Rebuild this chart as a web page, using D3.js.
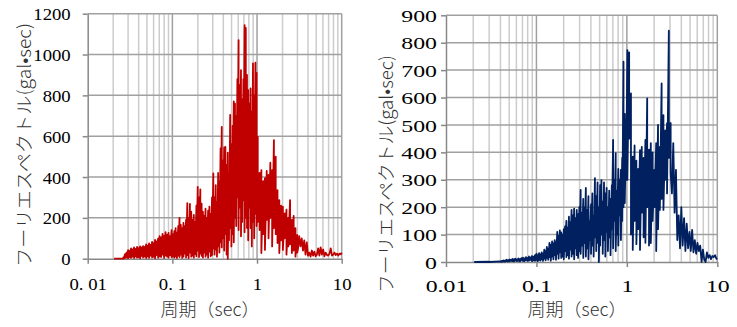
<!DOCTYPE html>
<html><head><meta charset="utf-8">
<script src="https://cdn.jsdelivr.net/npm/d3@7"></script>
<style>body{margin:0;background:#fff;} svg{display:block;}</style>
</head><body><svg id="c" width="737" height="327"></svg>
<script>
// ---------- shared axis data ----------
const xTicks = [0.01, 0.1, 1, 10];
const leftXLabels = ["0. 01", "0. 1", "1", "10"];
const rightXLabels = ["0.01", "0.1", "1", "10"];
const leftYTicks = [0, 200, 400, 600, 800, 1000, 1200];
const rightYTicks = [0, 100, 200, 300, 400, 500, 600, 700, 800, 900];
const yTitle = "フーリエスペクトル(gal•sec)";
const xTitle = "周期（sec）";

// ---------- left series (red): period, local high, local low ----------
const redP = [0.0205, 0.0260,
 0.0265,0.0276,0.0288,0.0300,0.0312,0.0325,0.0339,0.0353,0.0368,0.0383,0.0399,0.0416,0.0433,0.0451,0.0470,0.0490,0.0510,0.0531,0.0553,0.0576,0.0600,0.0625,0.0651,0.0678,0.0706,0.0736,0.0766,0.0798,0.0831,0.0866,0.0902,0.0939,0.0978,0.1019,
 0.1055,0.1093,0.1132,0.1173,0.1215,0.1259,0.1304,0.1351,0.1400,0.1450,0.1502,0.1556,0.1612,0.1670,0.1730,0.1792,0.1857,0.1924,0.1993,0.2065,0.2139,0.2216,0.2296,0.2378,0.2464,0.2552,0.2644,0.2739,0.2838,0.2940,0.3046,
 0.3150,0.3255,0.3363,0.3475,0.3590,0.3710,0.3833,0.3960,0.4092,0.4228,0.4368,0.4513,0.4663,0.4818,0.4978,0.5143,0.5314,0.5490,0.5672,0.5861,0.6055,0.6256,0.6464,0.6679,0.6900,0.7129,0.7366,0.7611,0.7863,0.8124,0.8394,0.8673,0.8961,0.9258,0.9566,0.9883,
 1.020,1.071,1.125,1.181,1.240,1.302,1.367,1.436,1.508,1.583,1.662,1.745,1.832,1.924,2.020,2.121,2.227,2.339,2.456,2.578,2.707,2.843,2.985];
const redHi = [0, 0,
 8,22,30,42,38,50,46,55,48,58,52,60,55,62,58,70,64,75,68,82,76,92,85,98,110,104,122,112,130,118,126,110,140,120,
 135,150,128,160,200,165,150,175,160,190,272,200,268,230,190,215,180,260,352,300,340,270,230,210,245,200,235,255,220,300,418,
 300,360,280,420,380,540,646,480,545,548,460,520,420,704,560,650,770,760,700,880,1071,850,924,780,880,1144,1130,900,826,760,834,720,957,800,960,910,
 597,420,434,380,395,430,410,470,434,581,500,336,287,260,255,222,240,200,287,190,210,150,116];
const redLo = [0, 0,
 0,3,5,2,8,4,10,3,12,5,8,2,14,6,10,3,12,4,15,6,10,2,18,5,12,8,20,4,15,10,6,18,8,12,
 5,12,3,15,8,20,4,10,25,6,18,3,30,10,15,5,22,12,40,8,25,14,6,30,10,20,5,35,12,18,50,
 20,45,10,60,30,80,55,100,40,120,20,0,90,150,60,120,80,200,160,300,140,250,110,180,287,130,200,150,90,250,150,60,180,100,220,160,
 180,140,28,120,43,190,100,200,60,150,120,77,28,90,43,100,20,60,70,28,40,10,30];
const redTailP = [3.05,3.15,3.26,3.37,3.49,3.61,3.74,3.87,4.00,4.14,4.29,4.44,4.59,4.75,4.92,5.09,5.27,5.45,5.64,5.84,6.04,6.25,6.47,6.70,6.93,7.17,7.42,7.68,7.95,8.23,8.52,8.81,9.12,9.44,9.77,10.0];
const redTailV = [50,110,60,100,40,90,20,80,15,30,10,40,15,35,12,20,50,15,55,20,45,12,30,18,15,25,50,15,20,30,18,25,15,25,22,30];

// ---------- right series (navy) ----------
const navyP = [0.0205, 0.030, 0.040,
 0.0416,0.0432,0.0449,0.0466,0.0484,0.0503,0.0523,0.0543,0.0564,0.0586,0.0609,0.0633,0.0658,0.0683,0.0710,0.0738,0.0766,0.0796,0.0827,0.0860,0.0893,0.0928,0.0964,0.1002,
 0.1036,0.1070,0.1106,0.1144,0.1182,0.1222,0.1263,0.1305,0.1349,0.1394,0.1441,0.1490,0.1540,0.1592,0.1645,0.1700,0.1757,0.1816,0.1877,0.1940,0.2006,0.2073,0.2143,0.2215,0.2289,0.2366,0.2446,0.2528,0.2613,0.2701,0.2792,0.2886,0.2983,
 0.3083,0.3187,0.3294,0.3405,0.3519,0.3637,0.3759,0.3886,0.4016,0.4151,0.4291,0.4435,0.4584,0.4738,0.4897,0.5062,0.5232,0.5408,0.5590,0.5778,0.5972,0.6173,0.6380,0.6595,0.6816,0.7045,0.7282,0.7527,0.7780,0.8041,0.8312,0.8591,0.8880,0.9178,0.9487,0.9806,
 1.013,1.060,1.110,1.162,1.217,1.274,1.334,1.397,1.462,1.531,1.603,1.678,1.757,1.840,1.926,2.017,2.111,2.211,2.315,2.423,2.537,2.657,2.781,2.912,3.049];
const navyHi = [0, 1, 2,
 4,6,5,8,7,9,8,11,10,12,9,13,11,14,16,13,18,15,20,17,22,19,25,30,
 25,32,28,35,30,45,40,55,48,70,62,75,68,80,72,110,95,115,108,100,120,130,150,125,165,145,190,170,195,160,190,175,200,
 263,180,230,200,270,190,240,150,210,250,170,306,240,290,200,280,299,220,290,250,270,200,260,230,280,445,300,397,260,340,300,336,380,731,540,520,
 773,765,615,384,425,370,340,408,420,380,445,597,410,434,400,336,434,500,420,652,536,480,507,844,507];
const navyLo = [0, 0, 1,
 1,2,1,3,2,2,4,3,2,5,3,4,2,6,4,3,7,4,5,8,3,6,4,8,
 3,8,5,10,4,12,6,15,8,18,5,20,10,25,8,30,12,35,15,20,10,40,18,25,12,45,20,30,10,50,25,15,40,
 30,60,15,69,20,50,10,80,30,60,20,90,40,70,0,60,100,30,80,20,110,40,90,25,120,50,150,40,100,60,170,80,150,200,215,300,
 300,450,100,44,150,65,120,44,180,90,70,200,60,69,150,200,40,120,190,230,190,300,250,380,324];
const navyTailP = [3.15,3.26,3.37,3.49,3.61,3.74,3.87,4.00,4.14,4.29,4.44,4.59,4.75,4.92,5.09,5.27,5.45,5.64,5.84,6.04,6.25,6.47,6.70,6.93,7.17,7.42,7.68,7.95,8.23,8.52,8.81,9.12,9.44,9.77,10.0];
const navyTailV = [250,434,180,336,80,170,50,200,60,160,40,140,50,110,40,117,35,80,30,70,40,60,0,45,10,0,35,15,25,10,22,18,25,12,10];

// ---------- drawing ----------
const svg = d3.select("#c");
const CJK = "'Noto Sans CJK JP','Noto Sans CJK SC',sans-serif";
const SERIF = "'Liberation Serif','DejaVu Serif',serif";

function buildPts(P, H, L, TP, TV) {
  const pts = [];
  P.forEach((p, i) => { pts.push([p, H[i]]); if (L[i] !== H[i]) pts.push([p, L[i]]); });
  TP.forEach((p, i) => pts.push([p, TV[i]]));
  return pts;
}

function panel(cfg) {
  const x = d3.scaleLog().domain([0.01, 10]).range([cfg.x0, cfg.x1]);
  const y = d3.scaleLinear().domain([0, cfg.ymax]).range([cfg.y0, cfg.y1]);
  const g = svg.append("g");

  const minor = [];
  [0.01, 0.1, 1].forEach(d => { for (let k = 2; k <= 9; k++) minor.push(k * d); });
  g.selectAll(".mn").data(minor).join("line")
    .attr("x1", d => x(d)).attr("x2", d => x(d))
    .attr("y1", y(0)).attr("y2", y(cfg.ymax))
    .attr("stroke", "#cccccc").attr("stroke-width", 1.5);
  g.selectAll(".hz").data(cfg.yTicks.filter(v => v > 0)).join("line")
    .attr("x1", cfg.x0).attr("x2", cfg.x1)
    .attr("y1", d => y(d)).attr("y2", d => y(d))
    .attr("stroke", "#a0a0a0").attr("stroke-width", 1.5);
  g.selectAll(".mj").data([0.1, 1, 10]).join("line")
    .attr("x1", d => x(d)).attr("x2", d => x(d))
    .attr("y1", y(0)).attr("y2", y(cfg.ymax))
    .attr("stroke", "#a0a0a0").attr("stroke-width", 1.5);

  // axes
  const ya = g.append("g").attr("transform", `translate(${cfg.x0},0)`)
    .call(d3.axisLeft(y).tickValues(cfg.yTicks).tickSize(5).tickSizeOuter(0).tickFormat(d3.format("d")));
  ya.select(".domain").attr("stroke", "#888").attr("stroke-width", 1.5);
  ya.selectAll(".tick line").attr("stroke", "#888").attr("stroke-width", 1.5);
  ya.selectAll(".tick text").attr("x", 0).attr("dy", "0.36em")
    .attr("transform", `translate(${-cfg.yGap},0) scale(${cfg.sx},1)`)
    .style("font-family", SERIF).style("font-size", "17px").attr("fill", "#000");

  const xa = g.append("g").attr("transform", `translate(0,${cfg.y0})`)
    .call(d3.axisBottom(x).tickValues(xTicks).tickSize(5).tickSizeOuter(0).tickFormat((d, i) => cfg.xLabels[i]));
  xa.select(".domain").attr("stroke", "#888").attr("stroke-width", 1.5);
  xa.selectAll(".tick line").attr("stroke", "#888").attr("stroke-width", 1.5);
  xa.selectAll(".tick text").attr("y", cfg.xGap).attr("dy", 0)
    .attr("transform", `scale(${cfg.sx},1)`)
    .style("font-family", SERIF).style("font-size", "17px").attr("fill", "#000");

  // series
  const pts = buildPts(cfg.P, cfg.H, cfg.L, cfg.TP, cfg.TV);
  g.append("path").datum(pts)
    .attr("d", d3.line().x(d => x(d[0])).y(d => y(d[1])))
    .attr("fill", "none").attr("stroke", cfg.color).attr("stroke-width", 1.8)
    .attr("stroke-linejoin", "round");

  // titles
  g.append("text").text(yTitle)
    .attr("transform", `translate(${cfg.ytX},${cfg.ytY}) rotate(-90)`)
    .attr("text-anchor", "middle").attr("dominant-baseline", "central")
    .attr("textLength", cfg.ytLen).attr("lengthAdjust", "spacingAndGlyphs")
    .style("font-family", CJK).style("font-size", "18px").style("font-weight", 300).attr("fill", "#333");
  g.append("text").text(xTitle)
    .attr("x", cfg.xtX).attr("y", 316).attr("text-anchor", "middle")
    .style("font-family", CJK).style("font-size", "18px").style("font-weight", 300).attr("fill", "#333");
}

panel({x0: 87.7, x1: 341.7, y0: 258.7, y1: 13.7, ymax: 1200, yTicks: leftYTicks, xLabels: leftXLabels,
  sx: 1.1, yGap: 17, xGap: 31, color: "#c00000", P: redP, H: redHi, L: redLo, TP: redTailP, TV: redTailV,
  ytX: 23, ytY: 145, ytLen: 244, xtX: 210});
panel({x0: 446, x1: 717.3, y0: 262, y1: 15.3, ymax: 900, yTicks: rightYTicks, xLabels: rightXLabels,
  sx: 1.4, yGap: 9, xGap: 30, color: "#002060", P: navyP, H: navyHi, L: navyLo, TP: navyTailP, TV: navyTailV,
  ytX: 385, ytY: 174, ytLen: 238, xtX: 577});
</script>
</body></html>
